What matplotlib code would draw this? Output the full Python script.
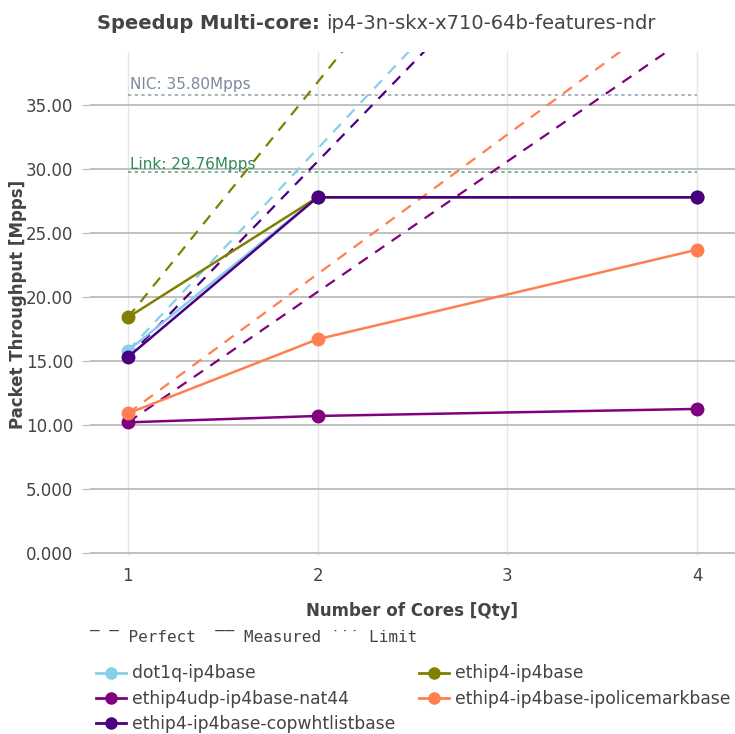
import numpy as np
import matplotlib
matplotlib.use("Agg")
import matplotlib.pyplot as plt
from matplotlib.lines import Line2D

# data
cores = [1, 2, 4]
series_names = [
    "dot1q-ip4base",
    "ethip4-ip4base",
    "ethip4udp-ip4base-nat44",
    "ethip4-ip4base-ipolicemarkbase",
    "ethip4-ip4base-copwhtlistbase",
]
dot1q_ip4base = [15.8, 27.8, 27.8]
ethip4_ip4base = [18.4, 27.8, 27.8]
ethip4udp_nat44 = [10.2, 10.7, 11.25]
ethip4_ipolicemarkbase = [10.9, 16.7, 23.7]
ethip4_copwhtlistbase = [15.3, 27.8, 27.8]
series_values = [dot1q_ip4base, ethip4_ip4base, ethip4udp_nat44,
                 ethip4_ipolicemarkbase, ethip4_copwhtlistbase]
colors = ["#87CEEB", "#808000", "#800080", "#FF7F50", "#4B0082"]

nic_limit = 35.80
link_limit = 29.76
y_ticks = [0, 5, 10, 15, 20, 25, 30, 35]
y_tick_labels = ["0.000", "5.000", "10.00", "15.00", "20.00", "25.00", "30.00", "35.00"]

text_col = "#444444"

fig = plt.figure(figsize=(7.35, 7.34), dpi=100)
ax = fig.add_axes([0.1224, 0.2425, 0.8776, 0.6865])

# perfect scaling (dashed)
for vals, col in zip(series_values, colors):
    perfect = [vals[0] * c for c in cores]
    ax.plot(cores, perfect, color=col, lw=1.6, ls=(0, (5, 4)), zorder=3)

# limits
ax.plot([1, 4], [nic_limit, nic_limit], color="#9aa5b1", lw=1.2, ls=(0, (2, 2)), zorder=2)
ax.plot([1, 4], [link_limit, link_limit], color="#6aa884", lw=1.2, ls=(0, (2, 2)), zorder=2)
ax.text(1.01, nic_limit + 0.25, "NIC: 35.80Mpps", color="#7a8a9e", fontsize=11,
        va="bottom", ha="left")
ax.text(1.01, link_limit + 0.0, "Link: 29.76Mpps", color="#2e8b57", fontsize=11,
        va="bottom", ha="left")

# measured
for name, vals, col in zip(series_names, series_values, colors):
    ax.plot(cores, vals, color=col, lw=1.8, marker="o", ms=9, label=name, zorder=4)

ax.set_xlim(0.8, 4.2)
ax.set_ylim(-0.25, 39.15)
ax.set_xticks([1, 2, 3, 4])
ax.set_xticklabels(["1", "2", "3", "4"])
ax.set_yticks(y_ticks)
ax.set_yticklabels(y_tick_labels)
ax.tick_params(axis="both", colors=text_col, labelsize=12, length=0)
ax.tick_params(axis="y", pad=6, length=6, color="#bbbbbb")
ax.tick_params(axis="x", pad=8)

for s in ax.spines.values():
    s.set_visible(False)
ax.grid(axis="y", color="#bbbbbb", lw=1.3)
ax.grid(axis="x", color="#e6e6e6", lw=1.0)
ax.set_axisbelow(True)

ax.set_xlabel("Number of Cores [Qty]", fontsize=12, fontweight="bold",
              color=text_col, labelpad=12)
ax.set_ylabel("Packet Throughput [Mpps]", fontsize=12, fontweight="bold",
              color=text_col)
ax.yaxis.set_label_coords(-0.097, 0.5)

# title: bold part followed by normal part
t1 = fig.text(97 / 735, 0.968, "Speedup Multi-core: ", fontsize=14, fontweight="bold",
              color=text_col, ha="left", va="center")
fig.canvas.draw()
bb = t1.get_window_extent(renderer=fig.canvas.get_renderer())
fig.text(bb.x1 / fig.bbox.width, 0.968, "ip4-3n-skx-x710-64b-features-ndr",
         fontsize=14, color=text_col, ha="left", va="center")

# line style hint
fig.text(0.122, 0.131, "\u203e \u203e Perfect  \u203e\u203e Measured \u02d9\u02d9\u02d9 Limit",
         fontsize=11.5, family="DejaVu Sans Mono", color=text_col, ha="left", va="center")

handles = [Line2D([0], [0], color=c, lw=2, marker="o", ms=8) for c in colors]
order = [0, 2, 4, 1, 3]
fig.legend([handles[i] for i in order], [series_names[i] for i in order],
           loc="upper left", bbox_to_anchor=(0.121, 0.104), ncol=2, frameon=False,
           fontsize=12.3, labelcolor=text_col, handlelength=1.75, handletextpad=0.35,
           columnspacing=1.4, labelspacing=0.42, borderaxespad=0)

fig.savefig("out.png", dpi=100)
